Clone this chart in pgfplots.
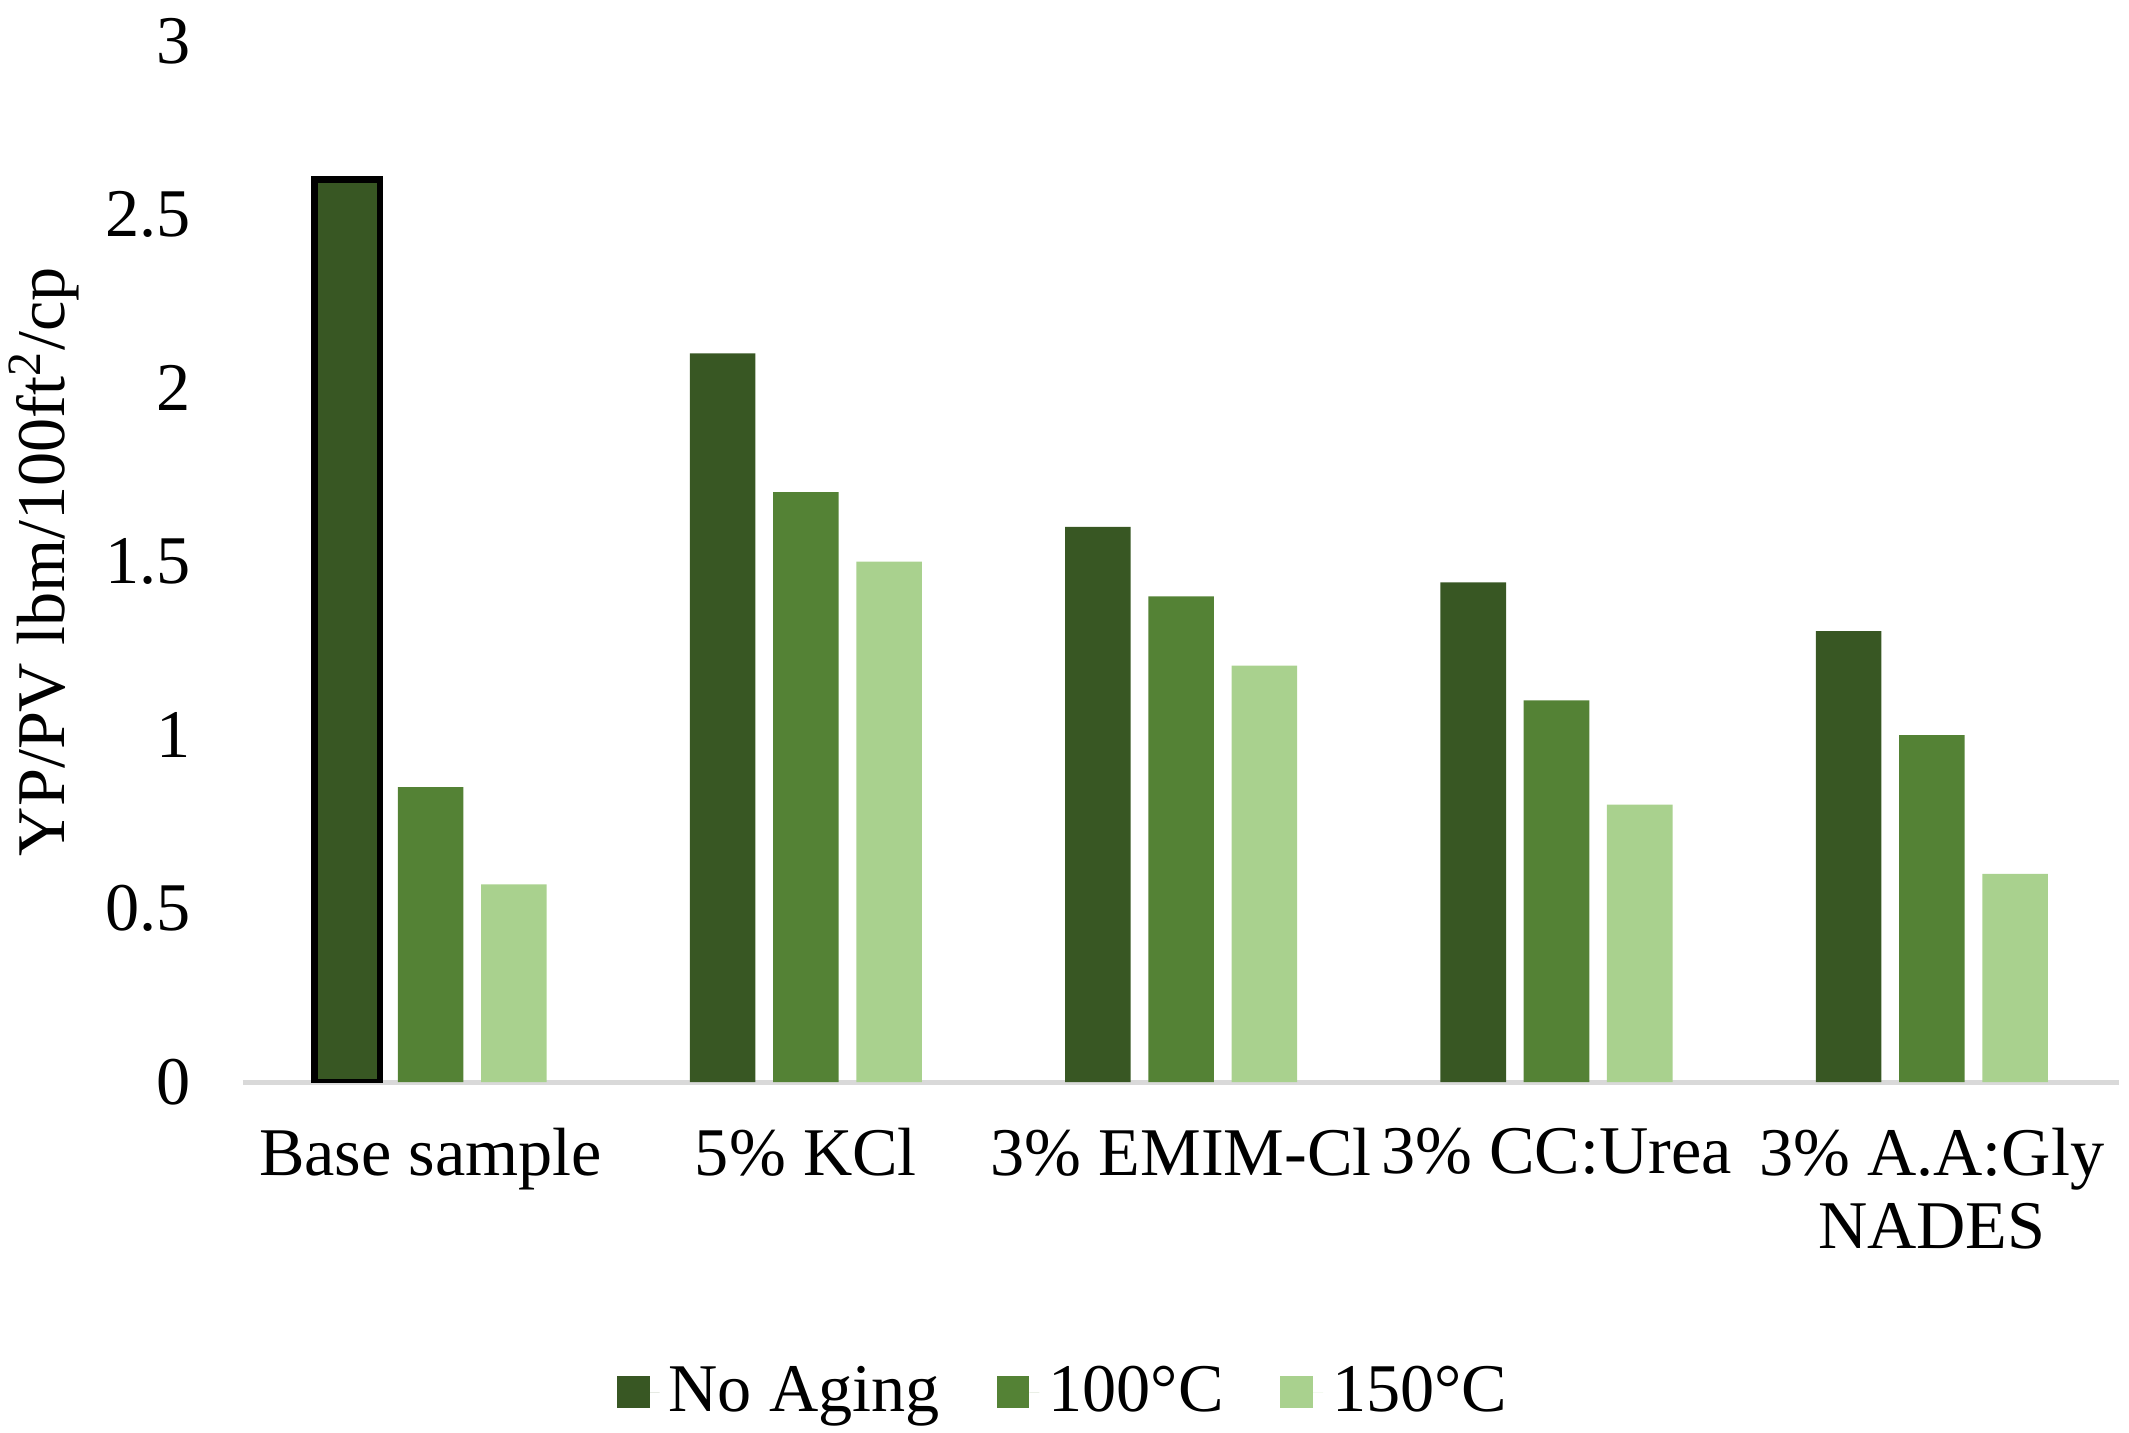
\documentclass[border=0pt]{standalone}
\usepackage{pgfplots}
\pgfplotsset{compat=1.18}
\usepackage{fontspec}
\setmainfont{Liberation Serif}
\definecolor{c1}{HTML}{385723}
\definecolor{c2}{HTML}{548235}
\definecolor{c3}{HTML}{A9D18E}
\definecolor{axgray}{HTML}{D9D9D9}
\begin{document}
\begin{tikzpicture}
\path[use as bounding box] (-53.4pt,-77.1pt) rectangle (414.6pt,237.9pt);
\begin{axis}[
  at={(0,0)}, anchor=south west,
  scale only axis, width=412.5pt, height=228.9pt,
  xmin=-0.5, xmax=4.5, ymin=0, ymax=3,
  ybar, bar width=14.4pt,
  axis x line*=bottom, axis y line*=left,
  x axis line style={draw=axgray, line width=1.1pt, -},
  y axis line style={draw=none},
  xtick style={draw=none}, ytick style={draw=none},
  major tick length=0pt,
  xtick={0,1,2,3,4},
  xticklabels={Base sample, 5\% KCl, 3\% EMIM-Cl, 3\% CC:Urea, {3\% A.A:Gly\\NADES}},
  xticklabel style={align=center, yshift=-6.5pt, font=\fontsize{15}{16.2}\selectfont},
  ytick={0,0.5,1,1.5,2,2.5,3},
  yticklabel style={xshift=-8pt, font=\fontsize{15}{18}\selectfont},
  /pgf/number format/assume math mode=true,
  ylabel={YP/PV lbm/100ft\textsuperscript{2}/cp},
  ylabel style={at={(axis description cs:-0.106,0.5)}, anchor=center, rotate=0, font=\fontsize{15}{18}\selectfont},
  legend style={draw=none, fill=none, at={(axis description cs:0.439,-0.2975)}, anchor=center,
    font=\fontsize{15}{18}\selectfont,
    /tikz/every even column/.append style={column sep=10.5pt}},
  legend columns=-1,
  legend image code/.code={\path[#1] (0pt,-3.6pt) rectangle (7.2pt,3.6pt); \path (7.2pt,0pt) -- (9.4pt,0pt);},
]
\addplot[fill=c1, draw=none, bar shift=-18.3pt] coordinates {(0,2.6) (1,2.1) (2,1.6) (3,1.44) (4,1.3)};
\addplot[fill=c2, draw=none, bar shift=0pt] coordinates {(0,0.85) (1,1.7) (2,1.4) (3,1.1) (4,1.0)};
\addplot[fill=c3, draw=none, bar shift=18.3pt] coordinates {(0,0.57) (1,1.5) (2,1.2) (3,0.8) (4,0.6)};
\addplot[fill=c1, draw=black, line width=1.5pt, bar shift=-18.3pt, forget plot] coordinates {(0,2.6)};
\legend{No Aging, 100°C, 150°C}
\end{axis}
\end{tikzpicture}
\end{document}
